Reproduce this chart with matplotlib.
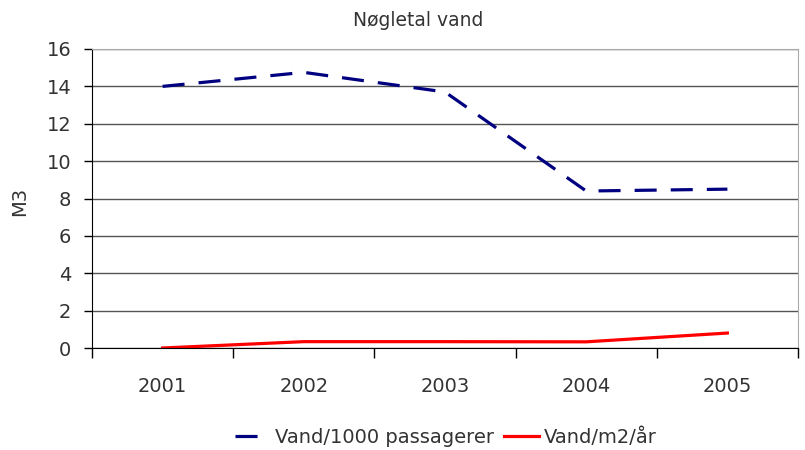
import matplotlib
matplotlib.use("Agg")
import matplotlib.pyplot as plt
import numpy as np

years = ["2001", "2002", "2003", "2004", "2005"]
vand_passagerer = [14.0, 14.75, 13.7, 8.4, 8.5]
vand_m2 = [0.0, 0.34, 0.34, 0.33, 0.8]
yticks = [0, 2, 4, 6, 8, 10, 12, 14, 16]

plt.rcParams['font.family'] = ['DejaVu Sans']
txt = '#333333'

W, H = 805, 450
fig = plt.figure(figsize=(W / 100, H / 100), dpi=100)
ax = fig.add_axes([92 / W, 1 - 348 / H, (798 - 92) / W, (348 - 49) / H])

x = np.arange(len(years))
ax.plot(x, vand_passagerer, color='#000080', lw=2.3, dashes=(6.9, 4.4),
        label='Vand/1000 passagerer', dash_capstyle='butt')
ax.plot(x, vand_m2, color='#ff0000', lw=2.3, label='Vand/m2/år')

ax.set_xlim(-0.5, len(years) - 0.5)
ax.set_ylim(0, 16)
ax.set_yticks(yticks)
ax.set_yticklabels([str(v) for v in yticks], fontsize=14, color=txt)
ax.yaxis.grid(True, color='#555555', lw=1)
ax.set_axisbelow(True)

ax.set_xticks(np.arange(-0.5, len(years) + 0.5, 1.0))
ax.set_xticklabels([])
ax.set_xticks(x, minor=True)
ax.set_xticklabels(years, minor=True, fontsize=14, color=txt)
ax.tick_params(axis='x', which='major', length=7, width=1, color='black', direction='out')
ax.tick_params(axis='x', which='minor', length=0, pad=21)
ax.tick_params(axis='y', length=6, width=1, color='black', direction='out', pad=9)

for s in ['top', 'right']:
    ax.spines[s].set_color('#aaaaaa')
ax.spines['left'].set_color('black')
ax.spines['bottom'].set_color('black')

fig.text(20 / W, 1 - 201 / H, 'M3', rotation=90, fontsize=14, color=txt,
         ha='center', va='center')
fig.text(418 / W, 1 - 20 / H, 'Nøgletal vand', fontsize=13.5, color=txt,
         ha='center', va='center')

leg = fig.legend(loc='center', bbox_to_anchor=(446 / W, 1 - 437 / H), ncol=2, frameon=False,
                 fontsize=14, handlelength=1.8, columnspacing=0.5, handletextpad=0.25,
                 borderaxespad=0, borderpad=0)
for t in leg.get_texts():
    t.set_color(txt)

fig.savefig('out.png', dpi=100)
